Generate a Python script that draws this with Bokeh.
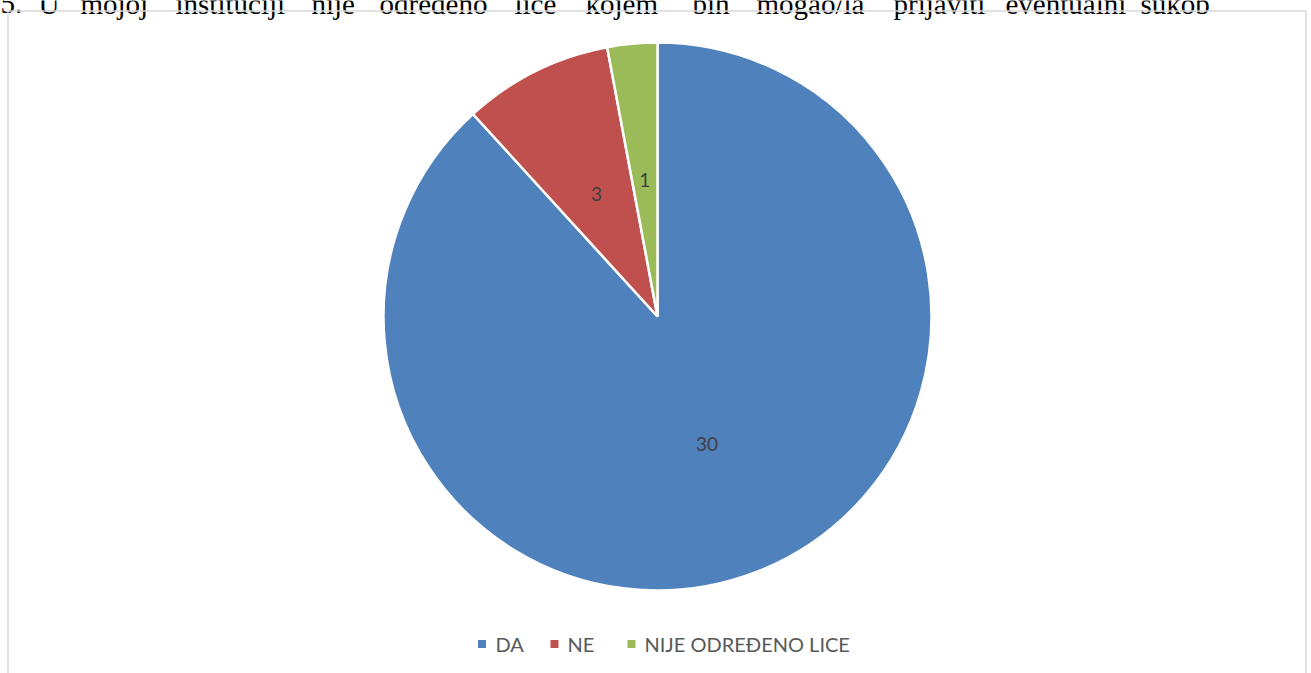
import numpy as np
from bokeh.plotting import figure
from bokeh.models import ColumnDataSource, Range1d
from bokeh.core.properties import value
from bokeh.embed import file_html
from bokeh.resources import INLINE

# ---- data ----
categories = ["DA", "NE", "NIJE ODREĐENO LICE"]
counts = [30, 3, 1]
colors = ["#4F81BD", "#C0504D", "#9BBB59"]
title_words = ["5.", "U", "mojoj", "instituciji", "nije", "određeno", "lice",
               "kojem", "bih", "mogao/la", "prijaviti", "eventualni", "sukob"]

W, H = 1311, 673
p = figure(width=W, height=H, output_backend="svg", toolbar_location=None,
           x_range=Range1d(0, W), y_range=Range1d(0, H), min_border=0,
           background_fill_color="white", border_fill_color="white")
p.axis.visible = False
p.grid.visible = False
p.outline_line_color = None

# heading line of the document, cut off by the top edge as in the reference
title_x = [0, 38, 80, 175, 311, 379, 514, 585, 692, 756, 893, 1005, 1140]
p.text(x=title_x, y=[670] * len(title_words), text=title_words,
       text_font=value("Liberation Serif"), text_font_size=value("29px"),
       text_color="black", text_align="left", text_baseline="alphabetic")

# chart frame (left, top, right edges)
p.multi_line(xs=[[7.5, 7.5, 1305.5, 1305.5]], ys=[[-5, 662.5, 662.5, -5]],
             line_color="#D9D9D9", line_width=1.5)

# pie
cx, cy, r = 657, 357, 274
vals = np.array(counts, dtype=float)
frac = vals / vals.sum()
cum_end = np.cumsum(frac)
cum_start = cum_end - frac
start = np.pi / 2 - cum_end * 2 * np.pi
end = np.pi / 2 - cum_start * 2 * np.pi
mid = (start + end) / 2
src = ColumnDataSource(dict(cat=categories, val=[str(c) for c in counts], color=colors,
                            start=start, end=end,
                            lx=cx + 0.5 * r * np.cos(mid), ly=cy + 0.5 * r * np.sin(mid)))
p.wedge(x=cx, y=cy, radius=r, start_angle="start", end_angle="end",
        direction="anticlock", fill_color="color", line_color="white",
        line_width=2.5, source=src)
p.text(x="lx", y="ly", text="val", source=src, text_font=value("Lato"),
       text_font_size=value("19px"), text_color="#404040",
       text_align="center", text_baseline="middle")

# legend
sq_x = [481.5, 554, 631]
tx_x = [495, 567, 644]
leg = ColumnDataSource(dict(sx=sq_x, tx=tx_x, cat=categories, color=colors,
                            sy=[29.5] * 3, ty=[30] * 3))
p.scatter(x="sx", y="sy", marker="square", size=8, fill_color="color",
          line_color=None, source=leg)
p.text(x="tx", y="ty", text="cat", source=leg, text_font=value("Lato"),
       text_font_size=value("20px"), text_color="#595959",
       text_align="left", text_baseline="middle")

open("out.html", "w").write(file_html(p, INLINE))
